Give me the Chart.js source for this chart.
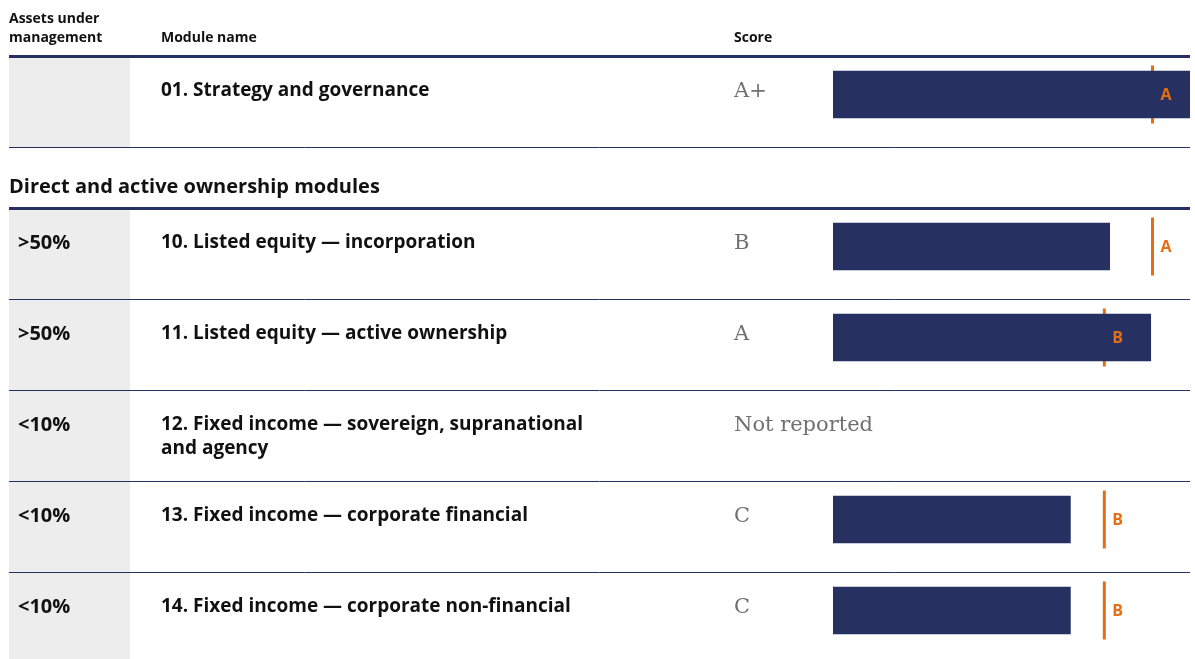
<!DOCTYPE html>
<html>
<head>
<meta charset="utf-8">
<script src="https://cdn.jsdelivr.net/npm/chart.js@4.4.0/dist/chart.umd.min.js"></script>
<style>
  html, body { margin: 0; padding: 0; background: #fff; }
  #wrap { position: relative; width: 1195px; height: 659px; overflow: hidden; }
  canvas { position: absolute; left: 0; }
  #top { top: 0; }
  #main { top: 148px; }
</style>
</head>
<body>
<div id="wrap">
  <canvas id="top" width="1195" height="148"></canvas>
  <canvas id="main" width="1195" height="511"></canvas>
</div>
<script>
// strategy module (top block)
var topAum = [''];
var topModules = ['01. Strategy and governance'];
var topScores = ['A+'];
var topBars = [100];
var topMedians = [89.5];
var topMedianGrades = ['A'];

// direct and active ownership modules
var aum = ['>50%', '>50%', '<10%', '<10%', '<10%'];
var modules = [
  '10. Listed equity — incorporation',
  '11. Listed equity — active ownership',
  ['12. Fixed income — sovereign, supranational', 'and agency'],
  '13. Fixed income — corporate financial',
  '14. Fixed income — corporate non-financial'
];
var scores = ['B', 'A', 'Not reported', 'C', 'C'];
var bars = [77.5, 89, null, 66.5, 66.5];
var medians = [89.5, 76, null, 76, 76];
var medianGrades = ['A', 'B', null, 'B', 'B'];

var NAVY = '#263161';
var ORANGE = '#e66d12';
var SANS = '"Open Sans", Lato, sans-serif';
var SERIF = '"DejaVu Serif", serif';

var tableRows = {
  id: 'tableRows',
  beforeDraw: function (chart, args, o) {
    var ctx = chart.ctx;
    var y = chart.scales.y;
    var n = chart.data.labels.length;
    var band = y.height / n;
    var right = chart.chartArea.right;
    var first = Math.round(y.top + 7);
    var last = Math.round(y.top + n * band + 7);

    ctx.save();
    // grey AUM column
    ctx.fillStyle = '#ededed';
    ctx.fillRect(9, first, 121, (o.closed ? last : chart.height) - first);

    // row separators
    ctx.strokeStyle = NAVY;
    for (var i = 0; i <= n; i++) {
      if (i === n && !o.closed) break;
      var ly = Math.round(y.top + i * band + 7);
      ctx.lineWidth = i === 0 ? 3 : 1;
      ctx.beginPath();
      ctx.moveTo(9, ly + 0.5);
      ctx.lineTo(right, ly + 0.5);
      ctx.stroke();
    }

    ctx.textBaseline = 'middle';
    ctx.textAlign = 'left';
    ctx.fillStyle = '#111';

    if (o.header) {
      ctx.font = 'bold 14px ' + SANS;
      ctx.fillText('Assets under', 9, 19);
      ctx.fillText('management', 9, 38);
      ctx.fillText('Module name', 161, 38);
      ctx.fillText('Score', 734, 38);
    }
    if (o.heading) {
      ctx.font = 'bold 20px ' + SANS;
      ctx.fillText(o.heading, 9, 39);
    }

    for (var r = 0; r < n; r++) {
      var ty = y.top + r * band + 7 + 35;
      ctx.fillStyle = '#111';
      ctx.font = 'bold 20px ' + SANS;
      ctx.fillText(o.aum[r], 18, ty);
      ctx.font = 'bold 19px ' + SANS;
      var lab = chart.data.labels[r];
      var lines = Array.isArray(lab) ? lab : [lab];
      lines.forEach(function (t, k) { ctx.fillText(t, 161, ty + k * 24); });
      ctx.fillStyle = '#707070';
      ctx.font = '21px ' + SERIF;
      ctx.fillText(o.scores[r], 734, ty + 1);
    }
    ctx.restore();
  },
  afterDatasetsDraw: function (chart, args, o) {
    var ctx = chart.ctx;
    var meta = chart.getDatasetMeta(1);
    var vals = chart.data.datasets[1].data;
    ctx.save();
    ctx.fillStyle = ORANGE;
    ctx.font = 'bold 16px ' + SANS;
    ctx.textBaseline = 'middle';
    meta.data.forEach(function (pt, i) {
      if (vals[i] == null || !o.grades[i]) return;
      ctx.fillText(o.grades[i], pt.x + 8, pt.y + 1);
    });
    ctx.restore();
  }
};

function makeChart(id, labels, barData, medianData, pad, opts) {
  return new Chart(document.getElementById(id), {
    type: 'bar',
    data: {
      labels: labels,
      datasets: [{
        data: barData,
        backgroundColor: NAVY,
        borderWidth: 0,
        barThickness: 47
      }, {
        type: 'line',
        indexAxis: 'y',
        data: medianData,
        showLine: false,
        clip: false,
        pointStyle: 'line',
        pointRotation: 90,
        pointRadius: 29,
        pointHoverRadius: 29,
        pointBorderWidth: 3,
        pointBorderColor: ORANGE,
        pointBackgroundColor: ORANGE
      }]
    },
    options: {
      indexAxis: 'y',
      responsive: false,
      animation: false,
      devicePixelRatio: 1,
      layout: { autoPadding: false, padding: { left: 833, right: 5, top: pad[0], bottom: pad[1] } },
      scales: {
        x: { display: false, min: 0, max: 100 },
        y: { display: false }
      },
      plugins: {
        legend: { display: false },
        tooltip: { enabled: false },
        tableRows: opts
      }
    },
    plugins: [tableRows]
  });
}

makeChart('top', topModules, topBars, topMedians, [49, 8], {
  header: true, closed: true, aum: topAum, scores: topScores, grades: topMedianGrades
});
makeChart('main', modules, bars, medians, [53, 3], {
  heading: 'Direct and active ownership modules', closed: false,
  aum: aum, scores: scores, grades: medianGrades
});
</script>
</body>
</html>
